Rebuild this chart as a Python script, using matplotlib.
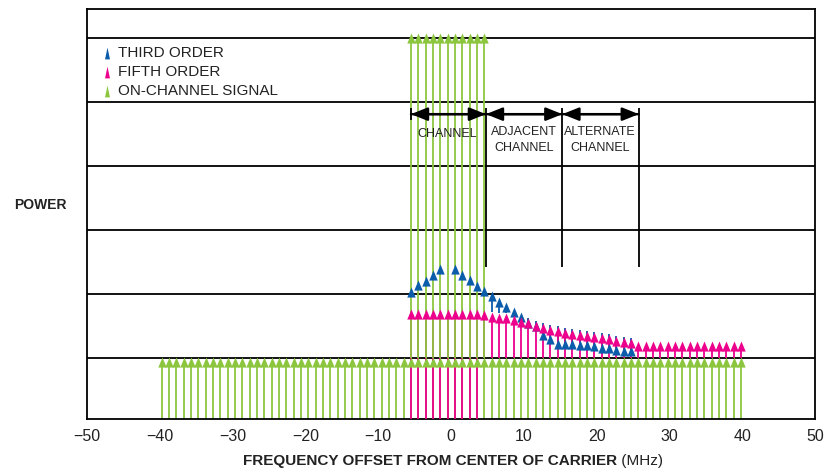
import numpy as np
import matplotlib
matplotlib.use("Agg")
import matplotlib.pyplot as plt
from matplotlib import font_manager

# tone grid as drawn in the figure (~1 MHz spacing), in MHz
tone_mhz = np.linspace(-39.75, 39.85, 80)
first_inband = 34          # index of the first in-channel tone
n_channel = 11             # tall on-channel tones

# levels in dB relative to the on-channel comb line (grid every 10 dB)
comb_level = 0.2
channel_level = 50.8

third_order = [11.1, 12.2, 12.8, 13.75, 14.7, np.nan, 14.7, 13.75, 13.0, 12.1, 11.3,
               10.5, 9.6, 8.8, 8.0, 7.2, 6.3, 5.8, 4.4, 3.7, 2.9, 2.9, 2.9, 2.8, 2.8,
               2.7, 2.4, 2.3, 2.1, 1.9, 1.8]
fifth_order = [7.6, 7.6, 7.6, 7.6, 7.6, 7.6, 7.6, 7.6, 7.6, 7.6,
               7.5, 7.2, 7.1, 7.0, 6.7, 6.45, 6.25, 5.8, 5.4, 5.15, 4.95,
               4.65, 4.5, 4.4, 4.25, 4.0, 3.85, 3.75, 3.45, 3.25, 3.1,
               2.7, 2.7, 2.7, 2.7, 2.7, 2.7, 2.7, 2.7, 2.7, 2.7, 2.7, 2.7, 2.7, 2.7, 2.7]

band_edges = [4.8, 15.3, 25.8]
channel_left = -5.5
band_labels = ["CHANNEL", "ADJACENT\nCHANNEL", "ALTERNATE\nCHANNEL"]
band_label_x = [-0.6, 10.0, 20.5]
legend_labels = ["THIRD ORDER", "FIFTH ORDER", "ON-CHANNEL SIGNAL"]

GREEN = "#8cc63f"
PINK = "#ec008c"
BLUE = "#0b5cab"

names = {f.name for f in font_manager.fontManager.ttflist}
narrow = "Liberation Sans Narrow" if "Liberation Sans Narrow" in names else "Liberation Sans"
plt.rcParams["font.family"] = ["Liberation Sans", "DejaVu Sans"]

fig = plt.figure(figsize=(8.33, 4.71), dpi=100)
ax = fig.add_axes([87 / 833, 52 / 471, 728 / 833, 410 / 471])
ybot, ytop = -9.53, 54.53
ax.set_xlim(-50, 50)
ax.set_ylim(ybot, ytop)

ax.hlines([0, 10, 20, 30, 40, 50], -50, 50, color="k", lw=1.3, zorder=1)

head = [(0, 0), (-0.42, -1), (0.42, -1), (0, 0)]   # tip sits on the value
tri = [(0, 1), (-0.42, -1), (0.42, -1), (0, 1)]    # centred, for the key
ms = 14.5
back = 0.8

ch_x = tone_mhz[first_inband:first_inband + n_channel]
pink_x = tone_mhz[first_inband:first_inband + len(fifth_order)]
blue_x = tone_mhz[first_inband:first_inband + len(third_order)]
fifth = np.array(fifth_order)
third = np.array(third_order)

# stems
ax.vlines(tone_mhz, ybot, comb_level - back, color=GREEN, lw=1.3, zorder=2)
ax.vlines(pink_x[:10], ybot, fifth[:10] - back, color=PINK, lw=1.3, zorder=3)
ax.vlines(pink_x[10:], 0, fifth[10:] - back, color=PINK, lw=1.3, zorder=1.5)
ax.vlines(blue_x[11:], fifth[11:len(third)], third[11:] - back, color=BLUE, lw=1.3, zorder=1.2)
ax.vlines(ch_x, 0, channel_level - back, color=GREEN, lw=1.3, zorder=3.5)

# heads
ax.plot(blue_x, third, ls="none", marker=head, ms=ms, color=BLUE, mew=0, zorder=4.5)
ax.plot(pink_x, fifth, ls="none", marker=head, ms=ms, color=PINK, mew=0, zorder=5)
ax.plot(tone_mhz, np.full(len(tone_mhz), comb_level), ls="none", marker=head, ms=ms,
        color=GREEN, mew=0, zorder=6)
ax.plot(ch_x, np.full(len(ch_x), channel_level), ls="none", marker=head, ms=ms,
        color=GREEN, mew=0, zorder=6)

# channel brackets
yb = 38.1
edges = [channel_left] + band_edges
style = "-|>,head_length=1.0,head_width=0.4"
for x0, x1 in zip(edges[:-1], edges[1:]):
    ax.annotate("", xy=(x1, yb), xytext=(x0, yb),
                arrowprops=dict(arrowstyle=style, color="k", lw=1.7, shrinkA=0, shrinkB=0),
                zorder=7)
    ax.annotate("", xy=(x0, yb), xytext=(x1, yb),
                arrowprops=dict(arrowstyle=style, color="k", lw=1.7, shrinkA=0, shrinkB=0),
                zorder=7)
ax.vlines(channel_left, 37.2, 39.1, color="k", lw=1.3, zorder=7)
ax.vlines(band_edges, 14.2, 39.1, color="k", lw=1.3, zorder=7)
for lab, lx in zip(band_labels, band_label_x):
    ax.text(lx, 34.1 if "\n" in lab else 35.0, lab, ha="center", va="center",
            fontsize=9, color="#222", linespacing=1.4, zorder=8)

# key
key_y = [47.7, 44.7, 41.7]
for lab, c, ky in zip(legend_labels, [BLUE, PINK, GREEN], key_y):
    ax.plot([-47.25], [ky], ls="none", marker=tri, ms=8.5, color=c, mew=0, zorder=8)
    ax.text(-45.7, ky, lab, ha="left", va="center", fontsize=11, color="#222", zorder=8)

ax.set_xticks(range(-50, 51, 10))
ax.set_yticks([])
ax.tick_params(length=0, pad=7, labelsize=11.5, colors="#222")
for s in ax.spines.values():
    s.set_linewidth(1.3)

fig.text(40 / 833, 266 / 471, "POWER", ha="center", va="center", fontsize=10,
         weight="bold", color="#222")
t1 = fig.text(243 / 833, 0.006, "FREQUENCY OFFSET FROM CENTER OF CARRIER", ha="left",
              va="bottom", fontsize=11, family=narrow, weight="bold", color="#222")
ax.annotate(" (MHz)", xy=(1, 0), xycoords=t1, ha="left", va="bottom", fontsize=11,
            family=narrow, color="#222", annotation_clip=False)

fig.savefig("out.png", dpi=100)
